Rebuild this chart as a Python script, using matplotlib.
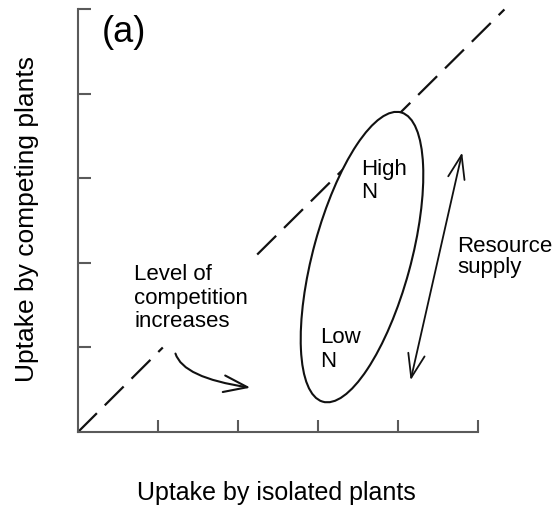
import matplotlib.pyplot as plt
from matplotlib.patches import Ellipse, FancyArrowPatch

plt.rcParams['font.family'] = ['Liberation Sans', 'DejaVu Sans']

# axis ticks (no labels, schematic figure)
x_ticks = [1, 2, 3, 4, 5]
y_ticks = [1, 2, 3, 4, 5]

# 1:1 dashed reference line, broken behind the text
line_lower_x = [0.0, 1.06]
line_lower_y = [0.0, 1.00]
line_upper_x = [2.24, 5.33]
line_upper_y = [2.10, 5.00]

# resource-supply ellipse (centre, size, tilt)
ell_center = (3.55, 2.07)
ell_width = 3.56
ell_height = 1.22
ell_angle = 73.9

# arrows
curve_start = (1.21, 0.96)
curve_end = (2.19, 0.52)
supply_low = (4.15, 0.58)
supply_high = (4.81, 3.34)

fig = plt.figure(figsize=(5.52, 5.09), dpi=100)
ax = fig.add_axes([78 / 552, 77 / 509, (552 - 78) / 552, 432 / 509])
ax.set_xlim(0, 5.925)
ax.set_ylim(0, 5.112)

spine_col = '#5a5a5a'
for s in ['top', 'right']:
    ax.spines[s].set_visible(False)
for s in ['left', 'bottom']:
    ax.spines[s].set_color(spine_col)
    ax.spines[s].set_linewidth(1.5)
ax.spines['left'].set_bounds(0, 5)
ax.spines['bottom'].set_bounds(0, 5)
ax.set_xticks(x_ticks)
ax.set_yticks(y_ticks)
ax.tick_params(direction='in', length=9, width=1.5, colors=spine_col,
               labelbottom=False, labelleft=False)

# dashed line
ax.plot(line_lower_x, line_lower_y, color='#111111', lw=1.6,
        linestyle=(0, (12, 5)), zorder=2, clip_on=False)
ax.plot(line_upper_x, line_upper_y, color='#111111', lw=1.6,
        linestyle=(0, (12, 5)), zorder=2, clip_on=False)

# ellipse hides the line inside it
ell = Ellipse(ell_center, ell_width, ell_height, angle=ell_angle,
              facecolor='white', edgecolor='#111111', lw=1.5, zorder=3)
ax.add_patch(ell)

# curved arrow
arr = FancyArrowPatch(curve_start, curve_end,
                      connectionstyle='angle3,angleA=-80,angleB=-8',
                      arrowstyle='->,head_length=0.85,head_width=0.3',
                      mutation_scale=20, color='#111111', lw=1.5, zorder=4)
ax.add_patch(arr)

# resource supply double arrow
arr2 = FancyArrowPatch(supply_low, supply_high,
                       arrowstyle='<->,head_length=0.85,head_width=0.3',
                       mutation_scale=20, color='#111111', lw=1.3, zorder=4)
ax.add_patch(arr2)

# text
ax.text(0.575, 4.73, '(a)', fontsize=26, ha='center', va='center')
ax.text(0.70, 1.99, 'Level of\ncompetition\nincreases', fontsize=16,
        ha='left', va='top', linespacing=1.17)
ax.text(3.54, 3.23, 'High\nN', fontsize=16, ha='left', va='top',
        linespacing=1.15, zorder=5)
ax.text(3.03, 1.24, 'Low\nN', fontsize=16, ha='left', va='top',
        linespacing=1.15, zorder=5)
ax.text(4.74, 2.32, 'Resource\nsupply', fontsize=16, ha='left', va='top',
        linespacing=1.0)

fig.text(276 / 552, 9 / 509, 'Uptake by isolated plants', fontsize=18,
         ha='center', va='baseline')
fig.text(27 / 552, (509 - 219) / 509, 'Uptake by competing plants',
         fontsize=19, ha='center', va='center', rotation=90)

fig.savefig('out.png', dpi=100)
